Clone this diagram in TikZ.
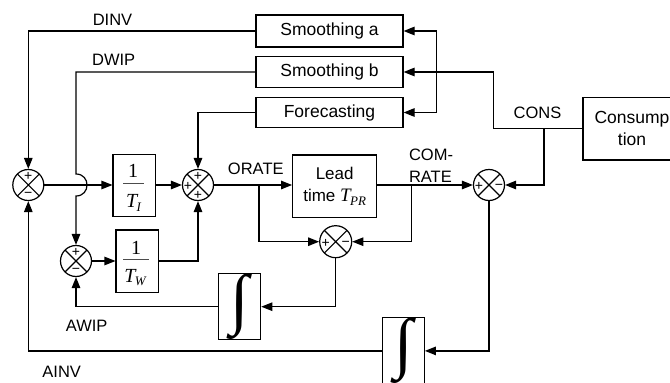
\documentclass[tikz,border=0pt]{standalone}
\usepackage{fontspec}
\setmainfont{Liberation Sans}
\newfontfamily\tms{Liberation Serif}
\usetikzlibrary{arrows.meta,calc}
\newcommand\Tsub[2][19]{{\tms\itshape\fontsize{#1}{#1}\selectfont T\kern-0.5pt\raisebox{-3.5pt}{\fontsize{13}{13}\selectfont #2}}}
\begin{document}
\begin{tikzpicture}[x=1pt,y=-1pt,
  line width=1.2pt,
  font=\fontsize{16.5}{21.7}\selectfont,
  blk/.style={draw,inner sep=0pt,font=\fontsize{17.5}{21.7}\selectfont},
  sm/.style={circle,draw,minimum size=31pt,inner sep=0pt,
    path picture={\draw[line width=1.1pt] (path picture bounding box.north west)--(path picture bounding box.south east)
      (path picture bounding box.north east)--(path picture bounding box.south west);}},
  sg/.style={font=\fontsize{14}{14}\selectfont,inner sep=0pt},
  arr/.style={-{Triangle[length=11pt,width=8.5pt]}},
  lbl/.style={inner sep=0pt},
  fracbar/.style={line width=1pt,black!70},
  num/.style={inner sep=0pt,anchor=base,font=\tms\fontsize{20}{20}\selectfont}
]
\useasboundingbox (0,0) rectangle (670,383);

% blocks
\node[blk,minimum width=147pt,minimum height=32pt] (sa) at (329.5,31) {Smoothing a};
\node[blk,minimum width=147pt,minimum height=30.5pt] (sb) at (329.5,72) {Smoothing b};
\node[blk,minimum width=147pt,minimum height=30pt] (fc) at (329.5,112.5) {Forecasting};
\node[blk,minimum width=98pt,minimum height=62.5pt,align=center] (cons) at (632,128.7) {Consump\\tion};
\node[blk,minimum width=42.7pt,minimum height=62.4pt] (ti) at (134.4,185.5) {};
\node[blk,minimum width=42.3pt,minimum height=62.7pt] (tw) at (137.2,261.3) {};
\node[blk,minimum width=84pt,minimum height=62.3pt,align=center,font=\fontsize{17}{22}\selectfont] (lt) at (334.7,186.2) {Lead\\time \Tsub{PR}};
\node[blk,minimum width=42.4pt,minimum height=64.7pt] (i1) at (239.5,306.7) {\resizebox{!}{48pt}{\tms ∫}};
\node[blk,minimum width=42pt,minimum height=60.3pt] (i2) at (403.3,350.9) {\resizebox{!}{48pt}{\tms ∫}};

% fractions
\node[num] (ti1) at (133,177.3) {1};
\draw[fracbar] (123.3,183.3) -- (144,183.3);
\node[inner sep=0pt,anchor=base] (ti2) at (133.5,207.7) {\Tsub[20]{I}};
\node[num] (tw1) at (136,254) {1};
\draw[fracbar] (123.3,259) -- (149.3,259);
\node[inner sep=0pt,anchor=base] (tw2) at (135,282.3) {\Tsub[20]{W}};

% summing junctions
\node[sm] (s1) at (28.3,185) {};
\node[sm] (s2) at (76,261) {};
\node[sm] (s3) at (198,185) {};
\node[sm,minimum size=32pt] (s4) at (335.7,241.7) {};
\node[sm] (s5) at (489,185) {};

% signs
\node[sg] (s1p) at ($(s1)+(0,-8.5)$) {+};
\node[sg] (s1m) at ($(s1)+(0,10)$) {−};
\node[sg] (s2p) at ($(s2)+(0,-8.5)$) {+};
\node[sg] (s2m) at ($(s2)+(0,9.5)$) {−};
\node[sg] (s3t) at ($(s3)+(0,-9)$) {+};
\node[sg] (s3l) at ($(s3)+(-10,1.5)$) {+};
\node[sg] (s3b) at ($(s3)+(0,10.5)$) {+};
\node[sg] (s4p) at ($(s4)+(-10,2)$) {+};
\node[sg] (s4m) at ($(s4)+(10,2)$) {−};
\node[sg] (s5p) at ($(s5)+(-10,1.5)$) {+};
\node[sg] (s5m) at ($(s5)+(10,1.5)$) {−};

% labels
\node[lbl] (ldinv) at (112.5,19.5) {DINV};
\node[lbl] (ldwip) at (113.7,59.5) {DWIP};
\node[lbl] (lorate) at (255.8,169) {ORATE};
\node[lbl,align=left] (lcom) at (431,165.5) {COM-\\RATE};
\node[lbl] (lcons) at (537.5,112.8) {CONS};
\node[lbl] (lawip) at (86.7,325.5) {AWIP};
\node[lbl] (lainv) at (61.7,372) {AINV};

% helper coordinates
\coordinate (j1) at (76,174);
\coordinate (j2) at (76,196);
\coordinate (o1) at (259,185);
\coordinate (c1) at (411.7,185);
\coordinate (k1) at (493.3,128.7);
\coordinate (k2) at (544,128.7);
\coordinate (d1) at (436.7,72);

% connectors
\draw[arr] (sa.west) -| (s1.north);
\draw[arr] (sb.west) -| (j1) .. controls (90.7,174) and (90.7,196) .. (j2) -- (s2.north);
\draw[arr] (fc.west) -| (s3.north);
\draw[arr] (s1.east) -- (s1.east -| ti.west);
\draw[arr] (ti.east |- s3.west) -- (s3.west);
\draw[arr] (s2.east) -- (s2.east -| tw.west);
\draw[arr] (tw.east |- s2.east) -| (s3.south);
\draw[arr] (s3.east) -- (s3.east -| lt.west);
\draw[arr] (o1) |- (s4.west);
\draw[arr] (lt.east |- s5.west) -- (s5.west);
\draw[arr] (c1) |- (s4.east);
\draw[arr] (cons.west) -- (k1) |- (sb.east);
\draw[arr] (d1) |- (sa.east);
\draw[arr] (d1) |- (fc.east);
\draw[arr] (k2) |- (s5.east);
\draw[arr] (s5.south) |- (i2.east);
\draw[arr] (i2.west) -| (s1.south);
\draw[arr] (s4.south) |- (i1.east);
\draw[arr] (i1.west) -| (s2.south);
\end{tikzpicture}
\end{document}
